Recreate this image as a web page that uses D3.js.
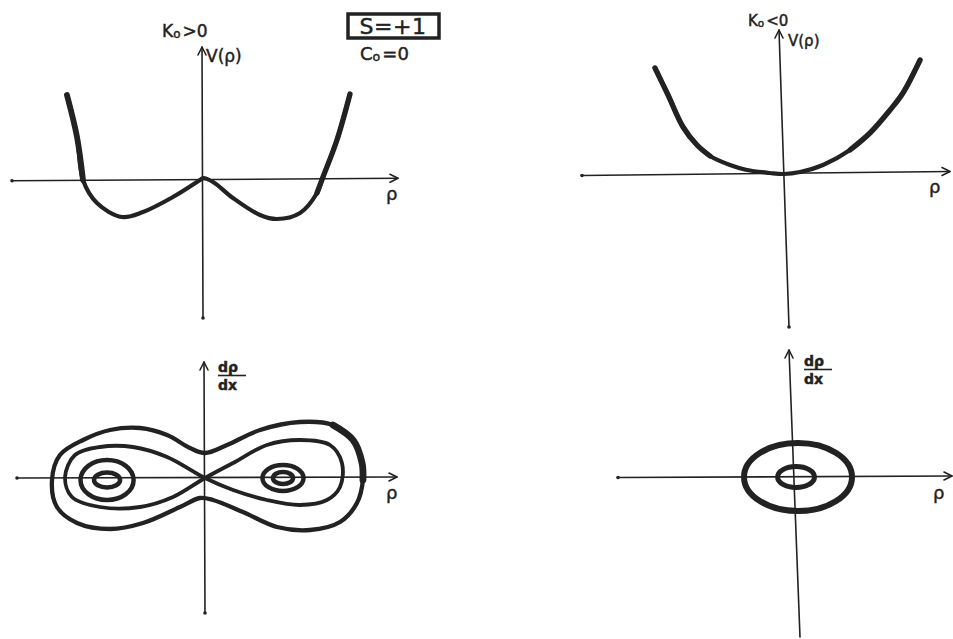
<!DOCTYPE html>
<html>
<head>
<meta charset="utf-8">
<script src="https://cdn.jsdelivr.net/npm/d3@7"></script>
<style>
  html, body { margin: 0; padding: 0; background: #fff; }
  svg { display: block; }
  text { font-family: "DejaVu Sans", sans-serif; fill: #222; stroke: #222; stroke-width: 0.45px; }
</style>
</head>
<body>
<svg id="chart" width="953" height="639"></svg>
<script>
// ---- data -------------------------------------------------------------
// Potential V(ρ) for K0 > 0 (double well), as [ρ, V]
const potentialPos = [
  [-0.907, 0.85], [-0.84, 0.43], [-0.80, 0.0], [-0.707, -0.23], [-0.54, -0.37],
  [-0.40, -0.32], [-0.20, -0.17], [-0.02, 0.0], [0.0, 0.02], [0.067, -0.02],
  [0.20, -0.18], [0.38, -0.35], [0.493, -0.39], [0.647, -0.33], [0.76, -0.13],
  [0.80, 0.03], [0.893, 0.40], [0.98, 0.86]
];
// Potential V(ρ) for K0 < 0 (single well), as [ρ, V]
const potentialNeg = [
  [-0.86, 1.06], [-0.773, 0.79], [-0.673, 0.47], [-0.58, 0.29], [-0.493, 0.18],
  [-0.36, 0.09], [-0.247, 0.04], [-0.093, 0.01], [0.0, 0.0], [0.107, 0.02],
  [0.26, 0.09], [0.44, 0.24], [0.573, 0.41], [0.707, 0.64], [0.793, 0.81],
  [0.907, 1.14]
];
// Phase plane (ρ, dρ/dx) for K0 > 0: outer orbit enclosing both wells
const outerOrbit = [
  [-1.02, -0.02], [-0.967, 0.23], [-0.813, 0.38], [-0.633, 0.48], [-0.433, 0.50],
  [-0.253, 0.43], [-0.10, 0.30], [0.0, 0.25], [0.147, 0.33], [0.367, 0.48],
  [0.633, 0.56], [0.853, 0.53], [0.987, 0.38], [1.047, 0.15], [1.053, -0.02],
  [1.013, -0.25], [0.90, -0.44], [0.70, -0.52], [0.48, -0.49], [0.253, -0.34],
  [0.053, -0.22], [-0.033, -0.20], [-0.167, -0.29], [-0.413, -0.45], [-0.633, -0.51],
  [-0.853, -0.45], [-0.987, -0.29]
];
// Separatrix (figure eight through the origin)
const separatrix = [
  [0.0, 0.0], [0.187, 0.15], [0.413, 0.33], [0.633, 0.38], [0.833, 0.33],
  [0.913, 0.15], [0.90, -0.09], [0.813, -0.22], [0.633, -0.27], [0.413, -0.22],
  [0.187, -0.12], [0.0, 0.0], [-0.253, 0.21], [-0.48, 0.31], [-0.70, 0.31],
  [-0.867, 0.23], [-0.933, 0.01], [-0.887, -0.19], [-0.70, -0.29], [-0.433, -0.29],
  [-0.213, -0.19]
];
// Closed orbits around each well: centre ρ, centre dρ/dx, half-widths
const wellOrbitsPos = [
  { cx: -0.653, cy: -0.02, rx: 0.177, ry: 0.20 },
  { cx: -0.653, cy: -0.02, rx: 0.087, ry: 0.075 },
  { cx: 0.52, cy: 0.0, rx: 0.137, ry: 0.13 },
  { cx: 0.52, cy: 0.0, rx: 0.067, ry: 0.06 }
];
// Phase plane for K0 < 0: orbits around the single centre
const wellOrbitsNeg = [
  { cx: 0.02, cy: 0.0, rx: 0.36, ry: 0.34, w: 6 },
  { cx: 0.007, cy: 0.0, rx: 0.123, ry: 0.105, w: 5 }
];

// ---- drawing -----------------------------------------------------------
const svg = d3.select("#chart");
const ink = "#222";

function scales(ox, oy) {
  return {
    x: d3.scaleLinear().domain([-1, 1]).range([ox - 150, ox + 150]),
    y: d3.scaleLinear().domain([-1, 1]).range([oy + 100, oy - 100])
  };
}

function axisLine(g, x1, y1, x2, y2, w) {
  g.append("line").attr("x1", x1).attr("y1", y1).attr("x2", x2).attr("y2", y2)
    .attr("stroke", ink).attr("stroke-width", w || 1.6).attr("stroke-linecap", "round");
}
function arrowRight(g, x, y) {
  g.append("path").attr("d", `M${x - 8},${y - 4} L${x},${y} L${x - 8},${y + 4}`)
    .attr("fill", "none").attr("stroke", ink).attr("stroke-width", 1.6)
    .attr("stroke-linecap", "round").attr("stroke-linejoin", "round");
}
function arrowUp(g, x, y) {
  g.append("path").attr("d", `M${x - 4},${y + 8} L${x},${y} L${x + 4},${y + 8}`)
    .attr("fill", "none").attr("stroke", ink).attr("stroke-width", 1.6)
    .attr("stroke-linecap", "round").attr("stroke-linejoin", "round");
}
function dot(g, x, y) {
  g.append("circle").attr("cx", x).attr("cy", y).attr("r", 1.8).attr("fill", ink);
}
function rhoLabel(g, x, y, size) {
  g.append("text").attr("x", x).attr("y", y).attr("font-size", size || 18).text("ρ");
}
function fracLabel(g, x, y) {
  const t = g.append("g").attr("transform", `translate(${x},${y})`);
  t.append("text").attr("x", 0).attr("y", 0).attr("font-size", 14).attr("font-weight", "bold").text("dρ");
  t.append("line").attr("x1", 0).attr("x2", 28).attr("y1", 3.5).attr("y2", 3.5)
    .attr("stroke", ink).attr("stroke-width", 1.6);
  t.append("text").attr("x", 0).attr("y", 17.5).attr("font-size", 14).attr("font-weight", "bold").text("dx");
}
function subLabel(g, x, y, main, sub, rest, size) {
  const t = g.append("text").attr("x", x).attr("y", y).attr("font-size", size);
  t.append("tspan").text(main);
  t.append("tspan").attr("font-size", size * 0.7).attr("dy", 1).text(sub);
  t.append("tspan").attr("dy", -1).attr("dx", 2).text(rest);
}
function stroke(g, pts, line, w) {
  g.append("path").datum(pts).attr("d", line)
    .attr("fill", "none").attr("stroke", ink).attr("stroke-width", w)
    .attr("stroke-linecap", "round").attr("stroke-linejoin", "round");
}

// Panel 1: V(ρ), K0 > 0
{
  const g = svg.append("g");
  const s = scales(203, 180);
  axisLine(g, 12, 180.7, 398, 178.3);
  arrowRight(g, 398, 178.3);
  dot(g, 12, 180.7);
  axisLine(g, 203, 318, 202, 47);
  arrowUp(g, 202, 47);
  dot(g, 203, 318);
  const line = d3.line().x(d => s.x(d[0])).y(d => s.y(d[1])).curve(d3.curveCatmullRom.alpha(0.5));
  stroke(g, potentialPos, line, 4.2);
  // heavier marker pressure on the steep walls
  stroke(g, potentialPos.slice(0, 3), line, 5.8);
  stroke(g, potentialPos.slice(14), line, 5.3);
  rhoLabel(g, 386, 200);
  subLabel(g, 162, 37, "K", "o", ">0", 17);
  g.append("text").attr("x", 206).attr("y", 62).attr("font-size", 17).text("V(ρ)");
  // S = +1, C0 = 0 annotation
  g.append("rect").attr("x", 348).attr("y", 14).attr("width", 91).attr("height", 24)
    .attr("fill", "none").attr("stroke", ink).attr("stroke-width", 3.5);
  g.append("text").attr("x", 393).attr("y", 34).attr("text-anchor", "middle")
    .attr("font-size", 22).attr("letter-spacing", 0.5).text("S=+1");
  subLabel(g, 360, 60, "C", "o", "=0", 18);
}

// Panel 2: V(ρ), K0 < 0
{
  const g = svg.append("g");
  const s = scales(784, 174);
  axisLine(g, 582, 175.5, 950, 171.5);
  arrowRight(g, 950, 171.5);
  dot(g, 582, 175.5);
  axisLine(g, 789, 327, 779, 30);
  arrowUp(g, 779, 30);
  dot(g, 789, 327);
  const line = d3.line().x(d => s.x(d[0])).y(d => s.y(d[1])).curve(d3.curveCatmullRom.alpha(0.5));
  stroke(g, potentialNeg, line, 4.2);
  stroke(g, potentialNeg.slice(0, 5), line, 5.3);
  stroke(g, potentialNeg.slice(11), line, 5.3);
  rhoLabel(g, 929, 193);
  subLabel(g, 748, 26, "K", "o", "<0", 15);
  g.append("text").attr("x", 788).attr("y", 46).attr("font-size", 15).text("V(ρ)");
}

// Panel 3: phase plane, K0 > 0
{
  const g = svg.append("g");
  const s = scales(205, 478);
  axisLine(g, 17, 478, 397, 477);
  arrowRight(g, 397, 477);
  dot(g, 17, 478);
  axisLine(g, 205, 613, 204, 362);
  arrowUp(g, 204, 362);
  dot(g, 205, 613);
  const closed = d3.line().x(d => s.x(d[0])).y(d => s.y(d[1])).curve(d3.curveCatmullRomClosed.alpha(0.5));
  const open = d3.line().x(d => s.x(d[0])).y(d => s.y(d[1])).curve(d3.curveCatmullRom.alpha(0.5));
  stroke(g, outerOrbit, closed, 4.3);
  // the outer orbit is drawn heavier round the right lobe
  stroke(g, outerOrbit.slice(11, 15), open, 6.8);
  stroke(g, separatrix, closed, 3.8);
  g.selectAll("ellipse").data(wellOrbitsPos).join("ellipse")
    .attr("cx", d => s.x(d.cx)).attr("cy", d => s.y(d.cy))
    .attr("rx", d => s.x(d.rx) - s.x(0)).attr("ry", d => s.y(0) - s.y(d.ry))
    .attr("fill", "none").attr("stroke", ink).attr("stroke-width", 4.5);
  rhoLabel(g, 386, 499);
  fracLabel(g, 218, 372);
}

// Panel 4: phase plane, K0 < 0
{
  const g = svg.append("g");
  const s = scales(795, 477);
  axisLine(g, 618, 477.5, 952, 476);
  arrowRight(g, 952, 476);
  dot(g, 618, 477.5);
  axisLine(g, 800, 637, 789, 350);
  arrowUp(g, 789, 350);
  g.selectAll("ellipse").data(wellOrbitsNeg).join("ellipse")
    .attr("cx", d => s.x(d.cx)).attr("cy", d => s.y(d.cy))
    .attr("rx", d => s.x(d.rx) - s.x(0)).attr("ry", d => s.y(0) - s.y(d.ry))
    .attr("fill", "none").attr("stroke", ink).attr("stroke-width", d => d.w);
  rhoLabel(g, 933, 499);
  fracLabel(g, 804, 366);
}
</script>
</body>
</html>
